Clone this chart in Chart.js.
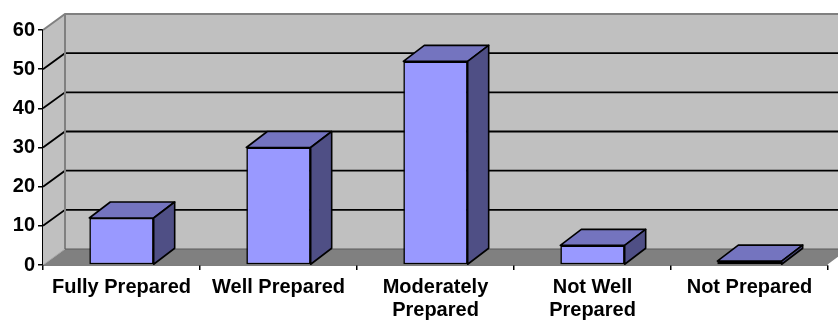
<!DOCTYPE html>
<html>
<head>
<meta charset="utf-8">
<script src="https://cdn.jsdelivr.net/npm/chart.js@4/dist/chart.umd.min.js"></script>
<style>
  html, body { margin: 0; padding: 0; background: #ffffff; }
  #wrap { width: 838px; height: 325px; }
</style>
</head>
<body>
<div id="wrap"><canvas id="c" width="838" height="325"></canvas></div>
<script>
// Preparedness categories (multi-line labels as arrays)
const categories = [
  'Fully Prepared',
  'Well Prepared',
  ['Moderately', 'Prepared'],
  ['Not Well', 'Prepared'],
  'Not Prepared'
];
// Share of respondents per category
const values = [12, 30, 52, 5, 1];
// Value axis ticks
const yTicks = [0, 10, 20, 30, 40, 50, 60];

// 3D look: offset of the back wall and of the column depth
const WALL_DX = 22, WALL_DY = -16;
const BAR_DX = 21, BAR_DY = -16;

const FONT = { family: '"Liberation Sans", Arial, sans-serif', size: 20, weight: 'bold', lineHeight: 1.15 };

// Draws walls, floor and back-wall gridlines behind the columns
const walls3d = {
  id: 'walls3d',
  beforeDatasetsDraw(chart) {
    const { ctx, chartArea: a, scales } = chart;
    const y = scales.y;
    const W = chart.width;
    ctx.save();
    // back wall
    ctx.fillStyle = '#c0c0c0';
    ctx.fillRect(a.left + WALL_DX, a.top + WALL_DY, W, a.bottom - a.top);
    // left side wall
    ctx.beginPath();
    ctx.moveTo(a.left, a.top);
    ctx.lineTo(a.left + WALL_DX, a.top + WALL_DY);
    ctx.lineTo(a.left + WALL_DX, a.bottom + WALL_DY);
    ctx.lineTo(a.left, a.bottom);
    ctx.closePath();
    ctx.fillStyle = '#c0c0c0';
    ctx.fill();
    // floor
    ctx.beginPath();
    ctx.moveTo(a.left, a.bottom);
    ctx.lineTo(a.right, a.bottom);
    ctx.lineTo(a.right + WALL_DX, a.bottom + WALL_DY);
    ctx.lineTo(a.left + WALL_DX, a.bottom + WALL_DY);
    ctx.closePath();
    ctx.fillStyle = '#808080';
    ctx.fill();
    // floor left edge
    ctx.strokeStyle = '#a8a8a8';
    ctx.lineWidth = 1;
    ctx.beginPath();
    ctx.moveTo(a.left, a.bottom);
    ctx.lineTo(a.left + WALL_DX, a.bottom + WALL_DY);
    ctx.stroke();
    // floor right edge
    ctx.strokeStyle = '#ffffff';
    ctx.lineWidth = 1.5;
    ctx.beginPath();
    ctx.moveTo(a.right, a.bottom);
    ctx.lineTo(a.right + WALL_DX, a.bottom + WALL_DY);
    ctx.stroke();
    // gridlines on side wall and back wall
    ctx.strokeStyle = '#000000';
    ctx.lineWidth = 1.8;
    yTicks.forEach(v => {
      if (v === yTicks[0] || v === yTicks[yTicks.length - 1]) return;
      const py = y.getPixelForValue(v);
      ctx.beginPath();
      ctx.moveTo(a.left, py);
      ctx.lineTo(a.left + WALL_DX, py + WALL_DY);
      ctx.lineTo(W + 5, py + WALL_DY);
      ctx.stroke();
    });
    // top edge of walls and inner corner
    ctx.strokeStyle = '#808080';
    ctx.lineWidth = 2;
    ctx.beginPath();
    ctx.moveTo(a.left, a.top);
    ctx.lineTo(a.left + WALL_DX, a.top + WALL_DY);
    ctx.lineTo(W + 5, a.top + WALL_DY);
    ctx.moveTo(a.left + WALL_DX, a.top + WALL_DY);
    ctx.lineTo(a.left + WALL_DX, a.bottom + WALL_DY);
    ctx.stroke();
    ctx.strokeStyle = '#5a5a5a';
    ctx.lineWidth = 1;
    ctx.beginPath();
    ctx.moveTo(a.left + WALL_DX, a.bottom + WALL_DY);
    ctx.lineTo(W + 5, a.bottom + WALL_DY);
    ctx.stroke();
    ctx.restore();
  },
  // top and side faces of each column, from the library's bar geometry
  afterDatasetsDraw(chart) {
    const { ctx } = chart;
    const meta = chart.getDatasetMeta(0);
    ctx.save();
    ctx.lineWidth = 1.6;
    ctx.strokeStyle = '#000000';
    ctx.lineJoin = 'round';
    meta.data.forEach(bar => {
      const p = bar.getProps(['x', 'y', 'base', 'width'], true);
      const l = p.x - p.width / 2, r = p.x + p.width / 2;
      const t = p.y, b = p.base;
      // top face
      ctx.beginPath();
      ctx.moveTo(l, t);
      ctx.lineTo(l + BAR_DX, t + BAR_DY);
      ctx.lineTo(r + BAR_DX, t + BAR_DY);
      ctx.lineTo(r, t);
      ctx.closePath();
      ctx.fillStyle = '#7474bf';
      ctx.fill();
      ctx.stroke();
      // side face
      ctx.beginPath();
      ctx.moveTo(r, t);
      ctx.lineTo(r + BAR_DX, t + BAR_DY);
      ctx.lineTo(r + BAR_DX, b + BAR_DY);
      ctx.lineTo(r, b);
      ctx.closePath();
      ctx.fillStyle = '#4f4f85';
      ctx.fill();
      ctx.stroke();
    });
    ctx.restore();
  }
};

new Chart(document.getElementById('c'), {
  type: 'bar',
  data: {
    labels: categories,
    datasets: [{
      data: values,
      backgroundColor: '#9999ff',
      borderColor: '#000000',
      borderWidth: 1.6,
      borderSkipped: false,
      categoryPercentage: 1,
      barPercentage: 0.41
    }]
  },
  options: {
    responsive: false,
    animation: false,
    devicePixelRatio: 1,
    layout: { padding: { top: 30, right: 10, left: 0, bottom: 0 } },
    plugins: { legend: { display: false }, tooltip: { enabled: false } },
    scales: {
      x: {
        grid: { display: true, drawOnChartArea: false, drawTicks: true, tickLength: 5, color: '#000000', lineWidth: 1.5, offset: true },
        border: { display: true, color: '#000000', width: 1.5 },
        ticks: { color: '#000000', font: FONT, autoSkip: false, maxRotation: 0, minRotation: 0, padding: 6 },
        afterFit(s) { s.height = 60; }
      },
      y: {
        min: 0, max: 60,
        afterBuildTicks(s) { s.ticks = yTicks.map(v => ({ value: v })); },
        grid: { display: true, drawOnChartArea: false, drawTicks: true, tickLength: 5, color: '#000000', lineWidth: 1.5 },
        border: { display: true, color: '#000000', width: 1.5 },
        ticks: { color: '#000000', font: FONT, padding: 3 },
        afterFit(s) { s.width = 43; }
      }
    }
  },
  plugins: [walls3d]
});
</script>
</body>
</html>
